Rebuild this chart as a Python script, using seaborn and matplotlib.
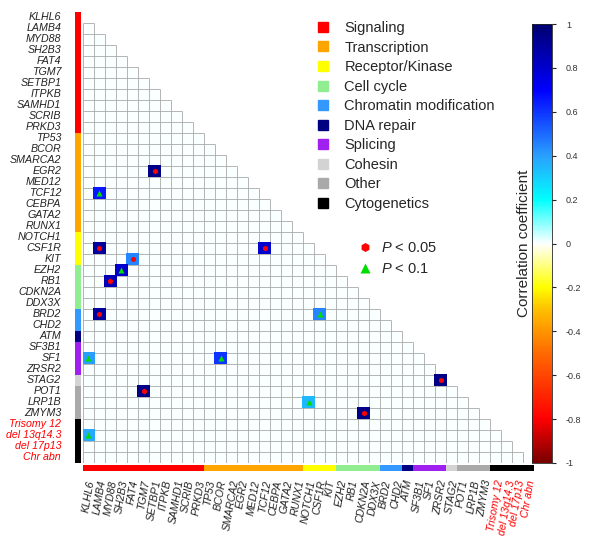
import numpy as np
import pandas as pd
import seaborn as sns
import matplotlib.pyplot as plt
from matplotlib.colors import LinearSegmentedColormap, ListedColormap
from matplotlib.lines import Line2D

# genes / features in plot order
genes = ['KLHL6', 'LAMB4', 'MYD88', 'SH2B3', 'FAT4', 'TGM7', 'SETBP1', 'ITPKB',
         'SAMHD1', 'SCRIB', 'PRKD3', 'TP53', 'BCOR', 'SMARCA2', 'EGR2', 'MED12',
         'TCF12', 'CEBPA', 'GATA2', 'RUNX1', 'NOTCH1', 'CSF1R', 'KIT', 'EZH2',
         'RB1', 'CDKN2A', 'DDX3X', 'BRD2', 'CHD2', 'ATM', 'SF3B1', 'SF1', 'ZRSR2',
         'STAG2', 'POT1', 'LRP1B', 'ZMYM3', 'Trisomy 12', 'del 13q14.3',
         'del 17p13', 'Chr abn']

categories = ['Signaling', 'Transcription', 'Receptor/Kinase', 'Cell cycle',
              'Chromatin modification', 'DNA repair', 'Splicing', 'Cohesin',
              'Other', 'Cytogenetics']
category_sizes = [11, 9, 3, 4, 2, 1, 3, 1, 3, 4]
category_colors = ['#ff0000', '#ffa500', '#ffff00', '#90ee90', '#3399ff',
                   '#000080', '#a020f0', '#d3d3d3', '#a9a9a9', '#000000']

# significant pairs (row gene, column gene, correlation, p-level)
pair_rows = ['EGR2', 'TCF12', 'CSF1R', 'CSF1R', 'KIT', 'EZH2', 'RB1', 'BRD2',
             'BRD2', 'SF1', 'SF1', 'STAG2', 'POT1', 'LRP1B', 'ZMYM3', 'del 13q14.3']
pair_cols = ['SETBP1', 'LAMB4', 'LAMB4', 'TCF12', 'FAT4', 'SH2B3', 'MYD88', 'LAMB4',
             'CSF1R', 'KLHL6', 'BCOR', 'ZRSR2', 'TGM7', 'NOTCH1', 'CDKN2A', 'KLHL6']
pair_corr = [0.95, 0.65, 0.9, 0.8, 0.45, 0.8, 0.85, 0.9,
             0.45, 0.4, 0.6, 0.95, 0.95, 0.35, 0.95, 0.38]
pair_p = ['<0.05', '<0.1', '<0.05', '<0.05', '<0.05', '<0.1', '<0.05', '<0.05',
          '<0.1', '<0.1', '<0.1', '<0.05', '<0.05', '<0.1', '<0.05', '<0.1']

# build matrix
n = len(genes)
corr = pd.DataFrame(0.0, index=genes, columns=genes)
for r, c, v in zip(pair_rows, pair_cols, pair_corr):
    corr.loc[r, c] = v
mask = np.triu(np.ones((n, n), dtype=bool))

cat_codes = np.repeat(np.arange(len(categories)), category_sizes)

cmap = LinearSegmentedColormap.from_list('corr', [
    (0.0, '#7a0000'), (0.1, '#ff0000'), (0.25, '#ff6a00'), (0.35, '#ffc000'),
    (0.4, '#ffff00'), (0.5, '#ffffff'), (0.6, '#00ffff'), (0.7, '#2aa0ff'),
    (0.85, '#0000ff'), (1.0, '#000070')])

sns.set_style('white')
plt.rcParams['font.family'] = ['Liberation Sans', 'DejaVu Sans']
plt.rcParams['mathtext.fontset'] = 'custom'
plt.rcParams['mathtext.it'] = 'Liberation Sans:italic'
plt.rcParams['mathtext.rm'] = 'Liberation Sans'

fig = plt.figure(figsize=(6.02, 5.41), dpi=100)
ax = fig.add_axes([83 / 602, 78.5 / 541, 451 / 602, 450.5 / 541])
cax = fig.add_axes([532 / 602, 78 / 541, 20 / 602, 439 / 541])
ax_left = fig.add_axes([75 / 602, 78.5 / 541, 6 / 602, 450.5 / 541])
ax_bot = fig.add_axes([83 / 602, 70 / 541, 451 / 602, 6 / 541])

sns.heatmap(corr, mask=mask, cmap=cmap, vmin=-1, vmax=1, linewidths=0,
            cbar_ax=cax, ax=ax, xticklabels=False, yticklabels=False)
ax.set_xlabel('')
ax.set_ylabel('')

# grid only for the lower triangle
k = np.arange(1, n)
ax.hlines(np.arange(1, n + 1), 0, np.minimum(np.arange(1, n + 1), n - 1),
          color='#a8a8a8', lw=0.6, zorder=2)
ax.vlines(np.arange(0, n), np.maximum(np.arange(0, n), 1), n,
          color='#a8a8a8', lw=0.6, zorder=2)

# redraw coloured cells over grid
for r, c, v in zip(pair_rows, pair_cols, pair_corr):
    xi = genes.index(c)
    yi = genes.index(r)
    ax.add_patch(plt.Rectangle((xi - 0.05, yi - 0.05), 1.1, 1.1,
                               color=cmap((v + 1) / 2), lw=0, zorder=3))

# p-value markers
for r, c, p in zip(pair_rows, pair_cols, pair_p):
    xi = genes.index(c) + 0.5
    yi = genes.index(r) + 0.5
    if p == '<0.05':
        ax.plot(xi, yi, marker='h', color='#ff0000', markersize=4, mec='none', zorder=4)
    else:
        ax.plot(xi, yi, marker='^', color='#00dd00', markersize=4.5, mec='none', zorder=4)

# category bars
cat_cmap = ListedColormap(category_colors)
sns.heatmap(cat_codes.reshape(-1, 1), cmap=cat_cmap, vmin=-0.5,
            vmax=len(categories) - 0.5, cbar=False, ax=ax_left,
            xticklabels=False, yticklabels=genes)
sns.heatmap(cat_codes.reshape(1, -1), cmap=cat_cmap, vmin=-0.5,
            vmax=len(categories) - 0.5, cbar=False, ax=ax_bot,
            xticklabels=genes, yticklabels=False)

label_colors = ['#ff0000' if g in genes[-4:] else '#222222' for g in genes]
ax_left.tick_params(axis='y', length=0, pad=10)
for t, col in zip(ax_left.get_yticklabels(), label_colors):
    t.set_fontsize(7.7)
    t.set_fontstyle('italic')
    t.set_rotation(0)
    t.set_color(col)
    t.set_ha('right')
ax_bot.tick_params(axis='x', length=0, pad=6)
for t, col in zip(ax_bot.get_xticklabels(), label_colors):
    t.set_fontsize(7.7)
    t.set_fontstyle('italic')
    t.set_rotation(80)
    t.set_color(col)
    t.set_ha('center')
    t.set_va('top')

# colorbar
cbar = ax.collections[0].colorbar
cbar.set_ticks(np.round(np.arange(-1, 1.01, 0.2), 1))
cbar.set_ticklabels(['-1', '-0.8', '-0.6', '-0.4', '-0.2', '0',
                     '0.2', '0.4', '0.6', '0.8', '1'])
cbar.ax.tick_params(labelsize=6.5, labelcolor='#333333', length=3, pad=7)
cbar.ax.yaxis.set_label_position('left')
cbar.set_label('Correlation coefficient', fontsize=11, labelpad=1)
cbar.outline.set_linewidth(0.6)

# category legend
cat_handles = [Line2D([], [], marker='s', linestyle='none', color=c,
                      markersize=6.5) for c in category_colors]
leg1 = fig.legend(cat_handles, categories, loc='upper left',
                  bbox_to_anchor=(316 / 602, 1 - 21 / 541), frameon=False,
                  fontsize=10.5, handlelength=1, handletextpad=0.95,
                  labelspacing=0.38, borderpad=0, borderaxespad=0)

p_handles = [Line2D([], [], marker='h', linestyle='none', color='#ff0000',
                    markersize=6.5, mec='none'),
             Line2D([], [], marker='^', linestyle='none', color='#00dd00',
                    markersize=7, mec='none')]
leg2 = fig.legend(p_handles, ['$P$ < 0.05', '$P$ < 0.1'], loc='upper left',
                  bbox_to_anchor=(358 / 602, 1 - 241 / 541), frameon=False,
                  fontsize=10.5, handlelength=1, handletextpad=0.6,
                  labelspacing=0.5, borderpad=0, borderaxespad=0)

fig.savefig('out.png', dpi=100)
